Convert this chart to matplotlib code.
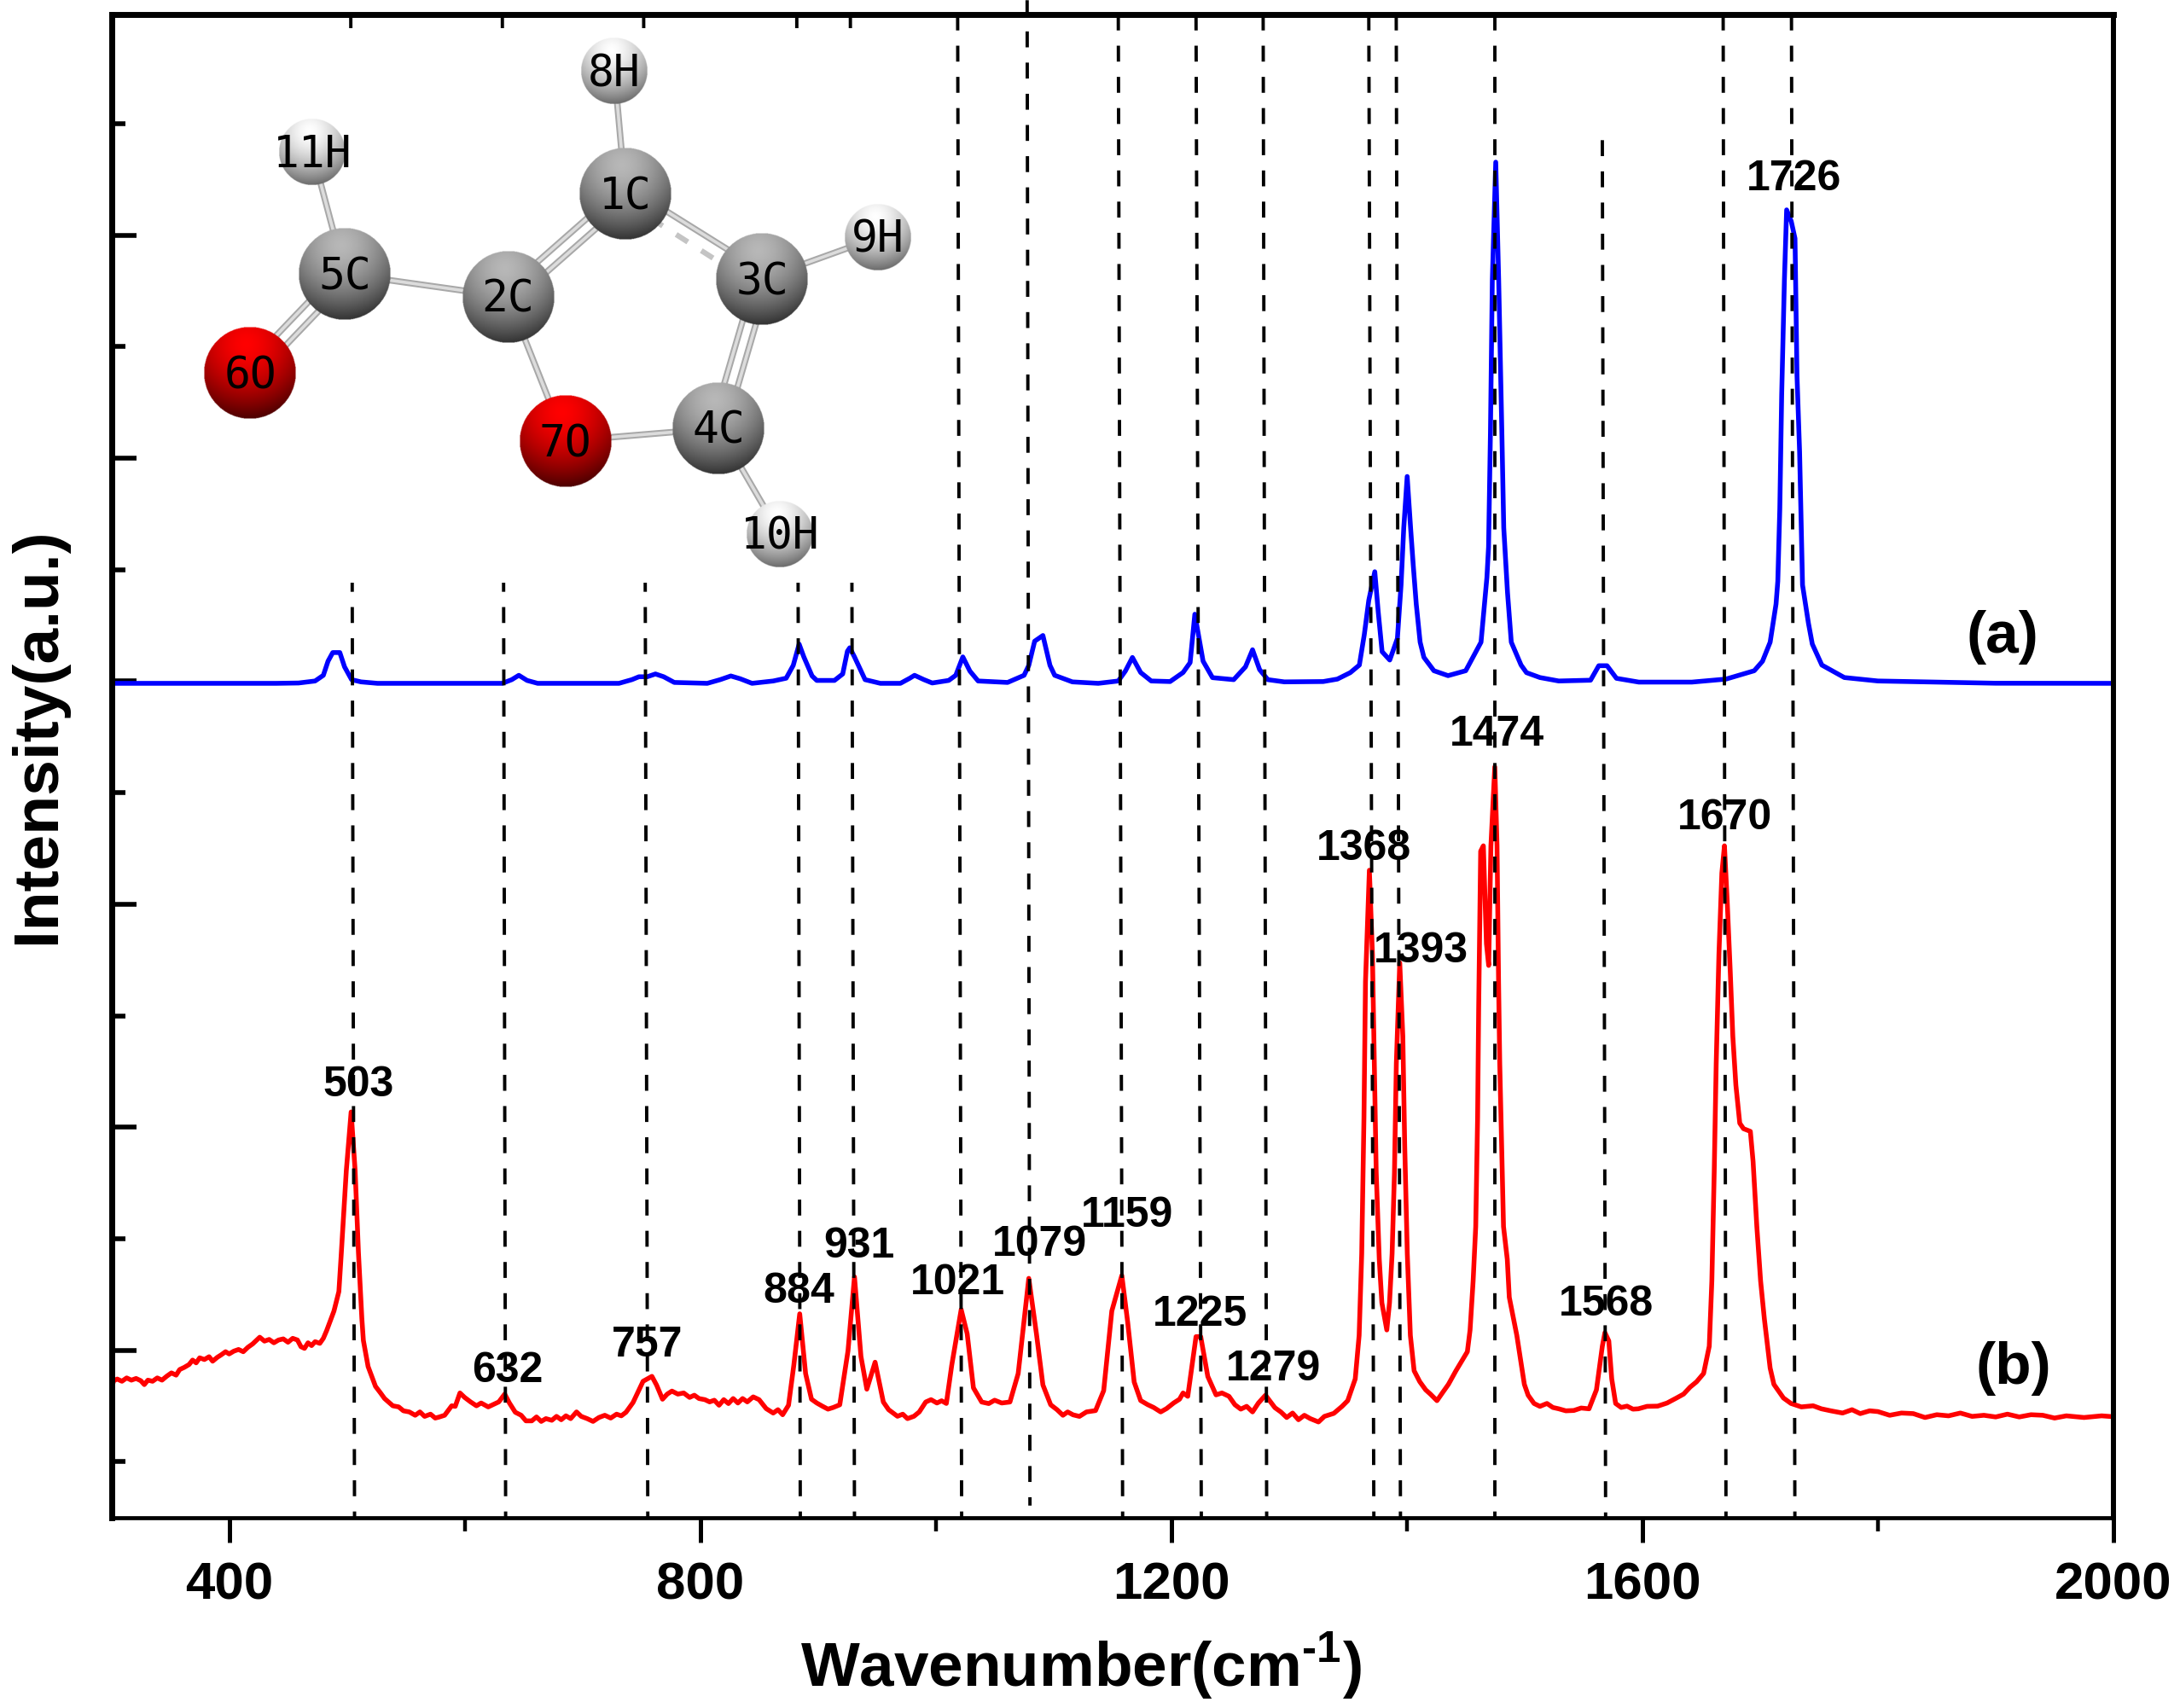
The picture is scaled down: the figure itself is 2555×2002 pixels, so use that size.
import numpy as np
import matplotlib
matplotlib.use("Agg")
import matplotlib.pyplot as plt
from matplotlib.patches import Rectangle
from matplotlib.ticker import MultipleLocator, FixedLocator

plt.rcParams['font.family'] = ['Liberation Sans', 'DejaVu Sans']
plt.rcParams['font.weight'] = 'bold'
plt.rcParams['mathtext.fontset'] = 'custom'
plt.rcParams['mathtext.bf'] = 'Liberation Sans:bold'
plt.rcParams['mathtext.rm'] = 'Liberation Sans:bold'

W, H = 2555, 2002

# calculated spectrum (a)
calc_x = [300, 440, 459, 473, 480, 484, 488, 494, 498, 504, 512, 526, 632, 640, 646, 653, 662, 731, 742,
          748, 755, 762, 769, 778, 806, 817, 826, 834, 844, 862, 873, 879, 884, 888, 895, 899, 914, 921,
          925, 927, 931, 940, 953, 970, 978, 982, 990, 997, 1011, 1017, 1023, 1029, 1036, 1061, 1075,
          1079, 1084, 1091, 1097, 1101, 1116, 1138, 1155, 1161, 1167, 1174, 1183, 1199, 1210, 1216, 1220,
          1223, 1227, 1235, 1253, 1263, 1269, 1275, 1282, 1296, 1329, 1341, 1352, 1359.7, 1363.9, 1367.7,
          1372.8, 1375.7, 1379, 1385.5, 1392, 1395.1, 1397.4, 1400.3, 1403.2, 1405.5, 1408, 1411.3, 1414.5,
          1423, 1435, 1450, 1463, 1468, 1469.4, 1471, 1472.6, 1475.5, 1478, 1480.7, 1482.3, 1485.5, 1488.7,
          1497, 1501.6, 1513, 1529, 1556, 1563, 1570, 1578, 1597, 1642, 1671, 1695, 1702, 1708.5, 1713.5,
          1715, 1716.7, 1718.3, 1720.6, 1722.5, 1726.4, 1729.6, 1731.3, 1733.5, 1736, 1741, 1744.3, 1752.4,
          1771.5, 1800, 1900, 2000]
calc_y = [8014, 8014, 8017, 8035, 8086, 8213, 8290, 8290, 8162, 8047, 8027, 8014, 8014, 8047, 8086, 8040,
          8014, 8014, 8047, 8073, 8073, 8098, 8073, 8022, 8014, 8047, 8080, 8055, 8014, 8035, 8060, 8175,
          8366, 8251, 8080, 8040, 8040, 8098, 8302, 8333, 8251, 8047, 8014, 8014, 8060, 8086, 8047, 8017,
          8040, 8086, 8251, 8124, 8035, 8022, 8086, 8175, 8392, 8443, 8175, 8086, 8027, 8014, 8035, 8124,
          8246, 8111, 8035, 8030, 8111, 8200, 8634, 8455, 8213, 8065, 8047, 8162, 8315, 8137, 8047, 8027,
          8030, 8052, 8110, 8178, 8452, 8759, 9015, 8657, 8298, 8223, 8417, 8896, 9408, 9869, 9408, 9067,
          8725, 8383, 8247, 8127, 8083, 8127, 8383, 8964, 9237, 10262, 11629, 12688, 11629, 10262, 9408,
          8827, 8383, 8178, 8110, 8066, 8035, 8042, 8172, 8172, 8059, 8025, 8025, 8052, 8127, 8212, 8383,
          8725, 8930, 9579, 10604, 11629, 12260, 12158, 12004, 10775, 10091, 8896, 8554, 8366, 8178, 8066,
          8035, 8015, 8014]

# measured spectrum (b)
meas_x = [300, 302, 305, 309, 313, 317, 321, 325, 328, 331, 335, 339, 343, 347, 351, 355, 358, 362, 366, 369,
          372, 375, 379, 383, 386, 390, 393, 397, 400, 404, 408, 412, 416, 420, 423, 426, 430, 434, 438, 442,
          446, 450, 454, 458, 461, 464, 467, 470, 473, 477, 480, 482.8, 489, 493.2, 495.3, 499.5, 503.6, 507,
          509.8, 512.7, 514, 518, 524.3, 528.5, 532, 539, 544, 548, 553, 558, 562, 566, 571, 575, 578, 583, 589,
          592, 596, 600, 605, 610, 614, 620, 625, 629, 634, 638, 643, 648, 652, 657, 661, 665, 669, 674, 678,
          682, 686, 690, 695, 699, 704, 709, 714, 719, 724, 729, 733, 737, 743, 751.5, 759, 763, 768, 772, 776,
          781, 786, 791, 795, 799, 804, 808, 812, 816, 820, 824, 828, 832, 836, 840, 845, 850, 856, 862, 866,
          870, 875, 879.5, 884.5, 889.5, 894.5, 899, 904, 908.5, 913, 918.5, 925.5, 931, 936.5, 941.5, 948.5,
          955.5, 960, 967.5, 972, 976, 981.5, 986, 991.5, 996, 1001, 1005, 1009, 1013.6, 1021.6, 1026.7, 1032,
          1039, 1045, 1050, 1056, 1063, 1070, 1079, 1085.5, 1091, 1097.6, 1103, 1108, 1112, 1116.6, 1122, 1128,
          1135.7, 1142.6, 1149.5, 1158, 1163, 1168.5, 1174, 1180, 1185, 1191, 1196, 1202, 1207, 1210, 1214,
          1221, 1225, 1231, 1238, 1243, 1249, 1254, 1259, 1264, 1269, 1274, 1280, 1288, 1293, 1298, 1303, 1308,
          1313, 1318, 1325, 1330, 1338, 1345, 1349.8, 1356.2, 1359.5, 1361.7, 1363.6, 1364.9, 1368.2, 1370.8,
          1372.4, 1374, 1376.6, 1378.8, 1383, 1385.3, 1387.5, 1389.5, 1391.1, 1394, 1396.6, 1398.2, 1400.4,
          1403, 1406.2, 1411, 1416, 1420, 1425.6, 1430.4, 1435.3, 1441.7, 1451.4, 1453.7, 1456.3, 1458.5,
          1460.1, 1461, 1462.7, 1465, 1467.6, 1469.5, 1471.4, 1474.7, 1476.6, 1477.9, 1478.9, 1480.5, 1482.1,
          1485.3, 1487, 1493.4, 1499.8, 1503, 1508, 1513, 1519, 1524, 1529, 1535, 1541.8, 1548, 1554.7, 1561,
          1566, 1568.2, 1571.5, 1574, 1577.3, 1582, 1587, 1592, 1596.6, 1604, 1613, 1621, 1629, 1635, 1640.6,
          1646, 1652, 1656.8, 1659, 1661, 1662.7, 1665, 1667.5, 1669.7, 1672, 1674.6, 1676.8, 1679.4, 1682.7,
          1685.9, 1691.7, 1694, 1697.2, 1700.4, 1703.6, 1708.5, 1711.7, 1719.8, 1726.2, 1735, 1745, 1752, 1760,
          1770, 1778, 1785, 1793, 1800, 1810, 1820, 1830, 1840, 1850, 1860, 1870, 1880, 1890, 1900, 1910, 1920,
          1930, 1940, 1950, 1960, 1975, 1990, 2000]
meas_y = [1690, 1760, 1775, 1755, 1785, 1765, 1780, 1760, 1725, 1765, 1755, 1785, 1765, 1800, 1830, 1810, 1860,
          1880, 1905, 1945, 1920, 1965, 1950, 1975, 1935, 1970, 1990, 2020, 2000, 2025, 2040, 2020, 2060, 2090,
          2120, 2150, 2115, 2130, 2100, 2125, 2135, 2105, 2140, 2125, 2065, 2050, 2100, 2075, 2110, 2095, 2140,
          2209, 2384, 2560, 2911, 3643, 4170, 3643, 2911, 2319, 2121, 1887, 1709, 1651, 1600, 1535, 1525, 1490,
          1480, 1450, 1480, 1440, 1460, 1425, 1433, 1450, 1535, 1530, 1650, 1610, 1570, 1535, 1560, 1525, 1550,
          1570, 1640, 1560, 1477, 1450, 1400, 1400, 1435, 1395, 1420, 1405, 1440, 1410, 1445, 1420, 1480, 1440,
          1420, 1395, 1430, 1450, 1425, 1460, 1445, 1477, 1565, 1755, 1799, 1720, 1594, 1640, 1667, 1640, 1650,
          1610, 1630, 1600, 1590, 1570, 1585, 1540, 1590, 1555, 1600, 1560, 1600, 1570, 1615, 1590, 1510, 1470,
          1500, 1455, 1540, 1900, 2360, 1824, 1594, 1560, 1530, 1505, 1520, 1544, 2028, 2691, 1977, 1684, 1926,
          1569, 1500, 1441, 1460, 1420, 1441, 1480, 1569, 1590, 1560, 1580, 1556, 1900, 2398, 2181, 1696, 1569,
          1555, 1585, 1560, 1569, 1824, 2678, 2181, 1722, 1544, 1500, 1450, 1480, 1454, 1440, 1480, 1492, 1671,
          2385, 2704, 2283, 1748, 1582, 1545, 1520, 1480, 1510, 1560, 1594, 1650, 1620, 2155, 2155, 1798, 1633,
          1650, 1620, 1545, 1505, 1530, 1480, 1560, 1630, 1518, 1480, 1430, 1470, 1410, 1450, 1420, 1390, 1440,
          1467, 1530, 1581, 1776, 2166, 2898, 4118, 5338, 6338, 5582, 4606, 3630, 2849, 2459, 2215, 2459, 2898,
          3630, 4606, 5508, 4850, 3874, 2898, 2166, 1849, 1751, 1678, 1640, 1581, 1654, 1727, 1849, 2020, 2215,
          2654, 3142, 4118, 5094, 6509, 6557, 5679, 5484, 6557, 7265, 6557, 5338, 4606, 3874, 3142, 2849, 2508,
          2166, 1727, 1630, 1556, 1530, 1556, 1520, 1508, 1490, 1493, 1515, 1508, 1678, 2069, 2191, 2117, 1776,
          1556, 1520, 1532, 1505, 1508, 1530, 1532, 1560, 1605, 1640, 1703, 1750, 1825, 2069, 2654, 3630, 4606,
          5581, 6313, 6557, 6069, 5435, 4850, 4411, 4069, 4020, 3996, 3727, 3142, 2654, 2313, 1873, 1727, 1605,
          1556, 1525, 1535, 1508, 1490, 1470, 1500, 1465, 1490, 1483, 1450, 1470, 1465, 1430, 1455, 1445, 1470,
          1440, 1450, 1435, 1460, 1435, 1455, 1450, 1425, 1445, 1430, 1445, 1437]

# peak labels and the guide lines (wavenumber at top and bottom of each line)
peak_labels = ['503', '632', '757', '884', '931', '1021', '1079', '1159', '1225', '1279',
               '1368', '1393', '1474', '1568', '1670', '1726']
guide_top = [503.3, 632, 752, 882, 927.5, 1018.6, 1077.6, 1155, 1221, 1278,
             1367.7, 1391, 1475, 1566, 1668.6, 1726.6]
guide_bottom = [506.5, 634.8, 755.5, 885, 931, 1022, 1080, 1158.7, 1225.5, 1281,
                1372, 1394.6, 1475, 1568.8, 1671, 1729.5]

x_ticks = [400, 800, 1200, 1600, 2000]
x_minor = [600, 1000, 1400, 1800]

fig = plt.figure(figsize=(W / 100, H / 100), dpi=100, facecolor='white')
ax = fig.add_axes([130.5 / W, 1 - 1779 / H, (2477 - 130.5) / W, (1779 - 17) / H])

# pixel axes on top, used for text placement and the molecule inset
over = fig.add_axes([0, 0, 1, 1], zorder=5)
over.set_xlim(0, W)
over.set_ylim(H, 0)
over.axis('off')
over.patch.set_alpha(0)

ax.plot(calc_x, calc_y, color='#0000ff', lw=4.0, zorder=2, solid_joinstyle='round')
ax.plot(meas_x, meas_y, color='#ff0000', lw=4.0, zorder=2, solid_joinstyle='round')

ax.set_xlim(300, 2000)
ax.set_ylim(531, 14012)

# guide lines, the one at 1568 starts lower and the one at 1079 runs past the frame
y_bot, y_top = ax.get_ylim()
for lab, xt, xb in zip(peak_labels, guide_top, guide_bottom):
    top = y_top
    bot = y_bot
    if lab == '1079':
        top = 14140
        bot = 640
    if lab == '1568':
        top = 12885
    ax.plot([xt, xb], [top, bot], color='black', lw=2.8, dashes=(4.8, 4.6),
            clip_on=False, zorder=3)

ax.xaxis.set_major_locator(FixedLocator(x_ticks))
ax.xaxis.set_minor_locator(FixedLocator(x_minor))
ax.yaxis.set_major_locator(MultipleLocator(2000, offset=33))
ax.yaxis.set_minor_locator(MultipleLocator(1000, offset=33))
ax.set_yticklabels([])
ax.tick_params(axis='x', which='major', direction='out', length=21, width=3.6, pad=16, labelsize=44.5)
ax.tick_params(axis='x', which='minor', direction='out', length=11.5, width=3.2)
ax.tick_params(axis='y', which='major', direction='in', length=21, width=4, labelleft=False)
ax.tick_params(axis='y', which='minor', direction='in', length=11.5, width=4)

ax.spines['left'].set_linewidth(5)
ax.spines['top'].set_linewidth(5)
ax.spines['right'].set_linewidth(4.3)
ax.spines['bottom'].set_linewidth(3.4)

# axis titles
over.text(1267, 1976, r'Wavenumber(cm$^{\text{-}\mathbf{1}}$)', fontsize=52.5, ha='center', va='baseline')
over.text(64, 862, 'Intensity(a.u.)', fontsize=54, rotation=90, ha='center', va='baseline',
          rotation_mode='anchor')

# peak labels sit under the dashed lines
label_pos = [(420, 1272), (595, 1607), (759, 1577), (936, 1514), (1007, 1461), (1122, 1504),
             (1218, 1459), (1321, 1425), (1407, 1541), (1492, 1605), (1599, 995), (1665, 1115),
             (1754, 861), (1883, 1529), (2021, 959), (2102, 210)]
for lab, (px, py) in zip(peak_labels, label_pos):
    ax.text(px, py, lab, transform=over.transData, fontsize=36, ha='center', va='center', zorder=1)

ax.text(2347, 747, '(a)', transform=over.transData, fontsize=50, ha='center', va='center', zorder=1)
ax.text(2360, 1604, '(b)', transform=over.transData, fontsize=50, ha='center', va='center', zorder=1)

# molecule inset, white block hides the guide lines behind it
over.add_patch(Rectangle((165, 33), 935, 650, facecolor='white', edgecolor='none', zorder=1))


def bond(p, q, offset=0.0, dashed=False):
    p = np.array(p, dtype=float)
    q = np.array(q, dtype=float)
    d = q - p
    n = np.array([-d[1], d[0]]) / np.hypot(*d) * offset
    xs = [p[0] + n[0], q[0] + n[0]]
    ys = [p[1] + n[1], q[1] + n[1]]
    if dashed:
        over.plot(xs, ys, color='#c4c4c4', lw=4.5, dashes=(2.6, 3.0), zorder=2)
    else:
        over.plot(xs, ys, color='#a8a8a8', lw=5.5, zorder=2, solid_capstyle='butt')
        over.plot(xs, ys, color='#dcdcdc', lw=2.6, zorder=2, solid_capstyle='butt')


def atom(cx, cy, r, light, dark, text):
    n = 220
    v, u = np.mgrid[-1:1:n * 1j, -1:1:n * 1j]
    dist = np.hypot(u + 0.08, v + 0.62)
    t = np.clip(dist / 1.62, 0, 1)[..., None] ** 1.6
    rgb = np.array(light) * (1 - t) + np.array(dark) * t
    alpha = (np.hypot(u, v) <= 1).astype(float)[..., None]
    over.imshow(np.concatenate([rgb, alpha], axis=2), extent=[cx - r, cx + r, cy + r, cy - r],
                aspect='auto', zorder=3, interpolation='bilinear')
    over.text(cx, cy + 4, text, family='DejaVu Sans Mono', weight='normal', fontsize=37,
              ha='center', va='center', color='black', zorder=4)


h1, h5, c1, c5, c2, c3, h9, o6, o7, c4, h10 = (
    (720, 83), (366, 178), (733, 227), (404, 321), (595.5, 348), (893, 327),
    (1029, 278), (293, 437), (662.5, 517), (842, 502), (914, 626))

bond(h1, c1)
bond(h5, c5)
bond(c5, c2)
bond(c2, o7)
bond(o7, c4)
bond(c4, h10)
bond(c3, h9)
bond(c5, o6, 8)
bond(c5, o6, -8)
bond(c2, c1, 8)
bond(c2, c1, -8)
bond(c3, c4, 8)
bond(c3, c4, -8)
bond(c1, c3, -8)
bond((c1[0] + 30, c1[1] + 29), (c3[0] - 30, c3[1] - 7), 0, dashed=True)

carbon = ((0.72, 0.72, 0.72), (0.2, 0.2, 0.2))
hydrogen = ((1.0, 1.0, 1.0), (0.42, 0.42, 0.42))
oxygen = ((1.0, 0.0, 0.0), (0.3, 0.0, 0.0))

atom(*h1, 39, *hydrogen, '8H')
atom(*h5, 39, *hydrogen, '11H')
atom(*c1, 54, *carbon, '1C')
atom(*c5, 54, *carbon, '5C')
atom(*c2, 54, *carbon, '2C')
atom(*c3, 54, *carbon, '3C')
atom(*h9, 39, *hydrogen, '9H')
atom(*o6, 54, *oxygen, '6O')
atom(*o7, 54, *oxygen, '7O')
atom(*c4, 54, *carbon, '4C')
atom(*h10, 39, *hydrogen, '10H')

over.set_xlim(0, W)
over.set_ylim(H, 0)

plt.savefig('out.png', dpi=100)
